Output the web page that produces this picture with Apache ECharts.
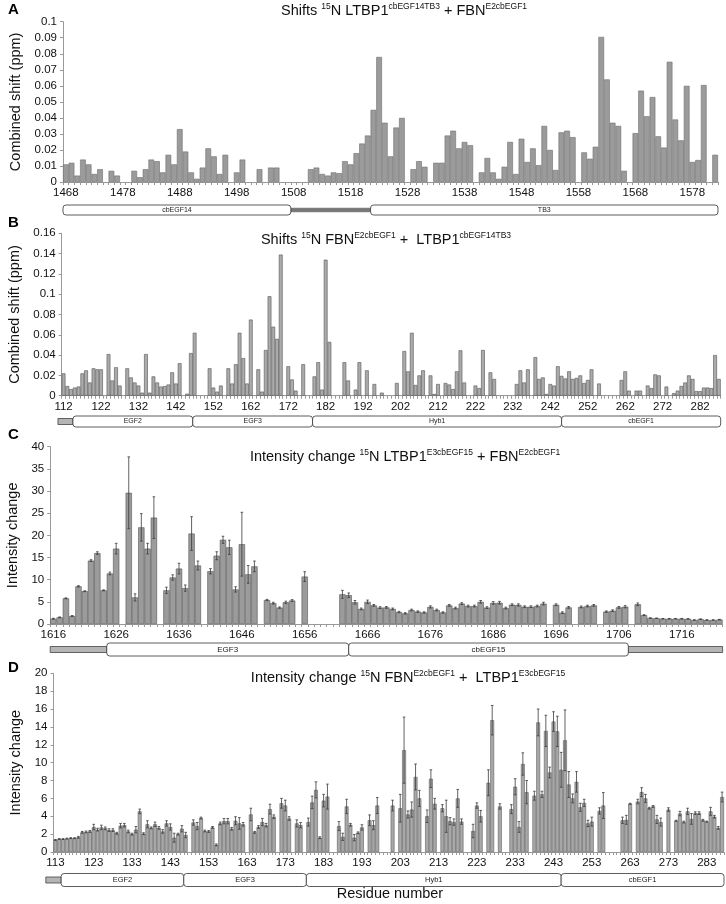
<!DOCTYPE html>
<html><head><meta charset="utf-8">
<script src="https://cdn.jsdelivr.net/npm/echarts@6/dist/echarts.min.js"></script>
<style>html,body{margin:0;padding:0;background:#fff}#c{width:726px;height:904px}</style>
</head><body><div id="c"></div>
<script>
// ---------- DATA ----------
const A_start = 1468;
const A_values = [
 0.011,0.012,0.004,0.014,0.011,0.005,0.008,null,0.007,0.004,
 null,null,0.007,0.003,0.008,0.014,0.013,0.006,0.017,0.011,
 0.033,0.019,0.006,0.002,0.009,0.021,0.016,0.005,0.017,null,
 0.006,0.014,null,null,0.008,null,0.009,0.009,null,null,
 null,null,null,0.008,0.009,0.005,0.004,0.006,0.0055,0.013,
 0.011,0.018,0.024,0.029,0.045,0.078,0.037,0.016,0.034,0.040,
 null,0.008,0.013,0.0095,null,0.012,0.012,0.029,0.032,0.021,
 0.025,0.023,null,0.006,0.015,0.006,0.002,0.0095,0.025,0.005,
 0.027,0.0125,0.021,0.0105,0.035,0.020,0.0075,0.031,0.032,0.028,
 null,0.0185,0.0145,0.022,0.0905,0.064,0.037,0.035,0.007,null,
 0.0305,0.057,0.041,0.053,0.0285,0.0215,0.075,0.039,0.026,0.060,
 0.0125,0.0137,0.0605,null,0.017
];
const A_domains = [
 {name:'cbEGF14', from:1467.5, to:1507.5, kind:'box'},
 {name:'', from:1507.5, to:1521.5, kind:'linkerDark'},
 {name:'TB3', from:1521.5, to:1582.5, kind:'box'}
];

const B_start = 112;
const B_values = [
 0.022,0.0095,0.0065,0.008,0.009,0.022,0.025,0.013,0.027,0.026,
 0.026,null,0.041,0.015,0.028,0.010,null,0.027,0.018,0.013,
 0.010,0.003,0.041,0.003,0.019,0.013,0.009,0.0095,0.011,0.023,
 0.012,0.032,null,0.002,0.042,0.062,null,null,null,0.027,
 0.008,0.004,0.010,null,0.027,0.012,0.031,0.062,0.037,0.012,
 0.075,null,0.026,0.004,0.045,0.098,0.068,0.056,0.139,null,
 0.029,0.016,0.005,null,0.031,null,null,0.019,0.033,0.006,
 0.134,0.053,null,null,null,0.033,0.015,null,0.006,0.033,
 null,0.025,null,0.0115,null,0.003,null,null,null,0.0125,
 null,0.044,0.024,0.062,0.0105,0.020,0.025,null,0.020,0.0017,
 0.0115,null,0.0125,0.011,0.0065,0.024,0.0447,0.013,null,null,
 0.010,0.0075,0.045,null,0.023,0.0165,null,null,null,null,
 null,0.0115,0.025,0.013,0.026,null,0.038,0.0165,0.018,0.0017,
 0.0115,0.010,0.029,0.0195,0.017,0.024,0.0165,0.0175,0.020,0.0125,
 0.0155,0.026,null,0.012,null,null,null,null,null,0.0155,
 0.024,0.005,null,0.005,0.005,null,0.010,0.0075,0.021,0.020,
 null,0.009,null,0.0025,0.005,0.0095,0.013,0.020,0.0165,0.0045,
 0.0045,0.008,0.008,0.0075,0.040,0.0165
];
const B_domains = [
 {name:'', from:110.5, to:114.5, kind:'linker'},
 {name:'EGF2', from:114.5, to:146.5, kind:'box'},
 {name:'EGF3', from:146.5, to:178.5, kind:'box'},
 {name:'Hyb1', from:178.5, to:245, kind:'box'},
 {name:'cbEGF1', from:245, to:287.5, kind:'box'}
];

const C_start = 1616;
const C_values = [
 1.2,1.5,5.8,1.8,8.5,7.4,14.3,16.0,7.6,11.4,
 17.0,null,29.6,6.0,21.8,17.0,24.0,null,7.6,10.5,
 12.5,8.1,20.4,13.2,null,11.9,15.4,19.0,17.3,7.8,
 18.0,11.2,13.0,null,5.4,4.7,3.7,4.9,5.3,null,
 10.7,null,null,null,null,null,6.7,6.5,4.9,3.4,
 5.0,4.2,3.7,3.75,3.4,2.7,2.4,3.15,2.8,2.6,
 3.85,3.15,2.6,4.2,3.6,4.6,4.05,4.05,5.0,3.7,
 4.75,4.8,3.6,4.35,4.3,3.9,3.9,4.05,4.6,null,
 4.35,2.55,3.75,null,3.85,4.05,4.2,null,2.8,3.0,
 3.75,3.9,null,4.45,2.0,1.35,1.3,1.2,1.2,1.2,
 1.2,1.15,0.9,1.1,0.9,0.9,1.0
];
const C_errors = [
 0.1,0.1,0.1,0.1,0.15,0.1,0.2,0.3,0.1,0.3,
 1.2,null,8.1,0.8,3.1,1.2,4.7,null,0.7,0.6,
 1.2,0.7,3.8,1.0,null,0.6,0.9,0.8,1.6,0.6,
 7.2,2.0,1.2,null,0.15,0.2,0.15,0.25,0.2,null,
 1.1,null,null,null,null,null,0.9,0.5,0.4,0.2,
 0.4,0.2,0.2,0.2,0.2,0.15,0.15,0.2,0.15,0.15,
 0.25,0.2,0.15,0.2,0.2,0.2,0.2,0.2,0.3,0.2,
 0.3,0.3,0.2,0.2,0.25,0.2,0.2,0.2,0.3,null,
 0.2,0.2,0.2,null,0.2,0.2,0.2,null,0.15,0.2,
 0.2,0.25,null,0.3,0.1,0.05,0.05,0.05,0.05,0.05,
 0.05,0.05,0.05,0.05,0.05,0.05,0.05
];
const C_domains = [
 {name:'', from:1615.5, to:1624.5, kind:'linker'},
 {name:'EGF3', from:1624.5, to:1663, kind:'box'},
 {name:'cbEGF15', from:1663, to:1707.5, kind:'box'},
 {name:'', from:1707.5, to:1722.5, kind:'linker'}
];

const D_start = 113;
const D_values = [
 1.35,1.45,1.45,1.5,1.55,1.55,1.65,2.2,2.25,2.3,
 2.8,2.5,2.75,2.65,2.45,2.45,2.1,2.95,3.0,2.3,
 2.0,2.5,4.55,2.05,3.1,2.7,3.1,2.7,2.3,3.2,
 2.8,1.6,2.0,2.6,1.9,null,3.3,2.9,3.8,2.35,
 2.3,2.75,0.8,3.2,3.45,3.45,2.6,3.5,3.2,3.1,
 null,4.2,2.2,2.8,3.35,3.0,4.8,3.95,null,5.45,
 5.2,3.75,null,3.2,3.0,null,3.35,5.55,6.95,1.6,
 5.75,6.2,null,null,2.9,1.7,5.1,3.05,1.6,2.15,
 2.75,null,3.55,3.0,5.2,null,null,null,5.2,null,
 4.9,11.4,4.2,4.75,8.4,6.0,null,4.0,8.2,5.4,
 null,4.9,4.0,3.45,3.35,6.0,3.4,null,null,2.35,
 5.2,4.0,null,7.75,14.75,null,5.1,null,null,4.8,
 7.3,2.8,9.85,6.7,null,6.3,14.5,6.45,13.55,8.9,
 14.6,13.5,9.2,12.5,7.55,6.0,7.85,5.0,5.5,3.2,
 3.4,null,4.6,5.2,null,null,null,null,3.55,3.6,
 5.4,null,5.65,6.7,6.0,4.9,5.1,3.65,3.35,null,
 4.75,null,3.5,4.3,3.35,4.55,3.7,4.35,4.35,3.55,
 3.4,4.55,3.95,2.7,6.15
];
const D_errors = [
 0.05,0.05,0.05,0.05,0.05,0.05,0.1,0.1,0.1,0.1,
 0.3,0.15,0.25,0.15,0.15,0.15,0.1,0.25,0.2,0.15,
 0.1,0.35,0.25,0.1,0.4,0.1,0.25,0.15,0.2,0.3,
 0.35,0.5,0.1,0.35,0.3,null,0.3,0.4,0.1,0.1,
 0.1,0.1,0.1,0.15,0.3,0.3,0.15,0.45,0.65,0.2,
 null,0.7,0.1,0.15,0.4,0.2,0.55,0.2,null,0.55,
 0.6,0.2,null,0.4,0.3,null,0.45,0.7,0.9,0.1,
 0.7,1.4,null,null,0.5,0.4,0.8,0.15,0.35,0.1,
 0.3,null,0.6,0.5,0.9,null,null,null,0.6,null,
 1.55,3.7,0.4,0.85,1.45,0.9,null,0.7,1.0,0.6,
 null,0.4,1.8,0.4,0.35,1.0,0.3,null,null,0.75,
 0.3,0.65,null,1.45,1.65,null,0.3,null,null,0.5,
 0.9,0.6,1.25,1.3,null,0.5,1.5,0.35,1.75,0.6,
 1.1,1.7,1.95,3.4,1.45,0.5,1.15,0.45,0.4,0.35,
 0.5,null,0.35,1.45,null,null,null,null,0.35,0.5,
 0.05,null,0.25,0.5,0.45,0.1,0.1,0.45,0.45,null,
 0.2,null,0.05,0.25,0.1,0.35,0.6,0.15,0.15,0.1,
 0.05,0.45,0.15,0.15,0.55
];
const D_domains = [
 {name:'', from:110.5, to:114.5, kind:'linker'},
 {name:'EGF2', from:114.5, to:146.5, kind:'box'},
 {name:'EGF3', from:146.5, to:178.5, kind:'box'},
 {name:'Hyb1', from:178.5, to:245, kind:'box'},
 {name:'cbEGF1', from:245, to:287.5, kind:'box'}
];

const yTicksA = {min:0, max:0.1, interval:0.01};
const yTicksB = {min:0, max:0.16, interval:0.02};
const yTicksC = {min:0, max:40, interval:5};
const yTicksD = {min:0, max:20, interval:2};

// ---------- CHART ----------
const FONT = 'Liberation Sans, Arial, sans-serif';
function cats(start, n){ const a=[]; for(let i=0;i<n;i++) a.push(String(start+i)); return a; }
const catsA = cats(A_start, A_values.length);
const catsB = cats(B_start, B_values.length);
const catsC = cats(C_start, C_values.length);
const catsD = cats(D_start, D_values.length);

const chart = echarts.init(document.getElementById('c'), null, {renderer:'canvas'});

const grids = [
  {left:63, top:21.7, width:655, height:160.3},
  {left:61.7, top:233.3, width:659, height:162.4},
  {left:50.2, top:446.7, width:672.4, height:177.3},
  {left:53.5, top:673.3, width:670.5, height:178.7}
].map(g => Object.assign({containLabel:false, outerBoundsMode:'none'}, g));

function xAx(i, data){
  return {type:'category', gridIndex:i, data:data, boundaryGap:true,
    axisLine:{show:true, lineStyle:{color:'#999', width:1}},
    axisTick:{show:true, interval:0, length:3, lineStyle:{color:'#999'}},
    axisLabel:{interval:9, fontSize:11.5, color:'#111', margin:5, fontFamily:FONT},
    splitLine:{show:false}};
}
function yAx(i, t, name, gap){
  return {type:'value', gridIndex:i, min:t.min, max:t.max, interval:t.interval,
    splitLine:{show:false},
    axisLine:{show:true, lineStyle:{color:'#999'}},
    axisTick:{show:true, length:3, lineStyle:{color:'#999'}},
    axisLabel:{fontSize:11.5, color:'#111', margin:6, fontFamily:FONT},
    name:name, nameLocation:'middle', nameGap:gap,
    nameTextStyle:{fontSize:14.5, color:'#111', fontFamily:FONT}};
}
function barS(i, vals, fill, border){
  return {type:'bar', xAxisIndex:i, yAxisIndex:i, data:vals, barCategoryGap:'0%',
    itemStyle:{color:fill, borderColor:border, borderWidth:0.6}, silent:true, animation:false};
}
function errRender(params, api){
  const x = api.value(0), v = api.value(1), e = api.value(2);
  const p1 = api.coord([x, v + e]);
  const p2 = api.coord([x, Math.max(0, v - e)]);
  const cap = 1.3;
  const st = {stroke:'#3a3a3a', lineWidth:0.8};
  return {type:'group', children:[
    {type:'line', shape:{x1:p1[0], y1:p1[1], x2:p2[0], y2:p2[1]}, style:st},
    {type:'line', shape:{x1:p1[0]-cap, y1:p1[1], x2:p1[0]+cap, y2:p1[1]}, style:st},
    {type:'line', shape:{x1:p2[0]-cap, y1:p2[1], x2:p2[0]+cap, y2:p2[1]}, style:st}
  ]};
}
function errS(i, vals, errs){
  const d = [];
  vals.forEach((v, k) => { if (v != null && errs[k] != null) d.push([k, v, errs[k]]); });
  return {type:'custom', xAxisIndex:i, yAxisIndex:i, data:d, renderItem:errRender,
    encode:{x:0, y:1}, z:5, silent:true, animation:false};
}

chart.setOption({
  animation:false,
  textStyle:{fontFamily:FONT},
  grid: grids,
  xAxis:[xAx(0,catsA), xAx(1,catsB), xAx(2,catsC), xAx(3,catsD)],
  yAxis:[yAx(0,yTicksA,'Combined shift (ppm)',37), yAx(1,yTicksB,'Combined shift (ppm)',38),
         yAx(2,yTicksC,'Intensity change',25), yAx(3,yTicksD,'Intensity change',27)],
  series:[
    barS(0, A_values, '#9b9b9b', '#6e6e6e'),
    barS(1, B_values, '#ababab', '#555'),
    barS(2, C_values, '#9b9b9b', '#555'),
    barS(3, D_values, '#a8a8a8', '#606060'),
    errS(2, C_values, C_errors),
    errS(3, D_values, D_errors)
  ]
});

// ---------- ANNOTATIONS (domains, titles, letters) ----------
function mapper(axisIdx, start, n){
  const p0 = chart.convertToPixel({xAxisIndex:axisIdx}, 0);
  const p1 = chart.convertToPixel({xAxisIndex:axisIdx}, n-1);
  const w = (p1 - p0) / (n - 1);
  return r => p0 + (r - start) * w;
}
const graphics = [];
function addDomains(axisIdx, start, n, doms, yc, h, fs){
  const px = mapper(axisIdx, start, n);
  doms.forEach(d => {
    const x1 = px(d.from), x2 = px(d.to);
    if (d.kind === 'box') {
      graphics.push({type:'rect', shape:{x:x1, y:yc-h/2, width:x2-x1, height:h, r:3},
        style:{fill:'#fff', stroke:'#333', lineWidth:0.8}, z:10});
      graphics.push({type:'text', x:(x1+x2)/2, y:yc, z:11,
        style:{text:d.name, fill:'#222', font:fs+'px '+FONT, align:'center', verticalAlign:'middle'}});
    } else if (d.kind === 'linkerDark') {
      graphics.push({type:'rect', shape:{x:x1, y:yc-1.8, width:x2-x1, height:3.6},
        style:{fill:'#777', stroke:'#555', lineWidth:0.6}, z:9});
    } else {
      graphics.push({type:'rect', shape:{x:x1, y:yc-3, width:x2-x1, height:6},
        style:{fill:'#b5b5b5', stroke:'#444', lineWidth:0.8}, z:9});
    }
  });
}
addDomains(0, A_start, A_values.length, A_domains, 210, 10, 7);
addDomains(1, B_start, B_values.length, B_domains, 421.5, 11, 7);
addDomains(2, C_start, C_values.length, C_domains, 649.5, 13, 8);
addDomains(3, D_start, D_values.length, D_domains, 880, 13, 7.5);

const titleRich = {
  a:{fill:'#111', fontSize:14.5, fontFamily:FONT, lineHeight:18},
  s:{fill:'#111', fontSize:8.5, fontFamily:FONT, verticalAlign:'top', lineHeight:10}
};
function addTitle(x, y, text){
  graphics.push({type:'text', x:x, y:y, z:12,
    style:{text:text, rich:titleRich, align:'center', verticalAlign:'middle', fill:'#111'}});
}
addTitle(404, 11, '{a|Shifts }{s|15}{a|N LTBP1}{s|cbEGF14TB3}{a| + FBN}{s|E2cbEGF1}');
addTitle(386, 240, '{a|Shifts }{s|15}{a|N FBN}{s|E2cbEGF1}{a| +  LTBP1}{s|cbEGF14TB3}');
addTitle(405, 457, '{a|Intensity change }{s|15}{a|N LTBP1}{s|E3cbEGF15}{a| + FBN}{s|E2cbEGF1}');
addTitle(408, 678, '{a|Intensity change }{s|15}{a|N FBN}{s|E2cbEGF1}{a| +  LTBP1}{s|E3cbEGF15}');

[['A',10],['B',223],['C',435],['D',668]].forEach(([t,y]) => {
  graphics.push({type:'text', x:8, y:y, z:12,
    style:{text:t, fill:'#000', font:'bold 15px '+FONT, align:'left', verticalAlign:'middle'}});
});
graphics.push({type:'text', x:390, y:894, z:12,
  style:{text:'Residue number', fill:'#111', font:'14.5px '+FONT, align:'center', verticalAlign:'middle'}});

chart.setOption({graphic: graphics});
</script>
</body></html>
